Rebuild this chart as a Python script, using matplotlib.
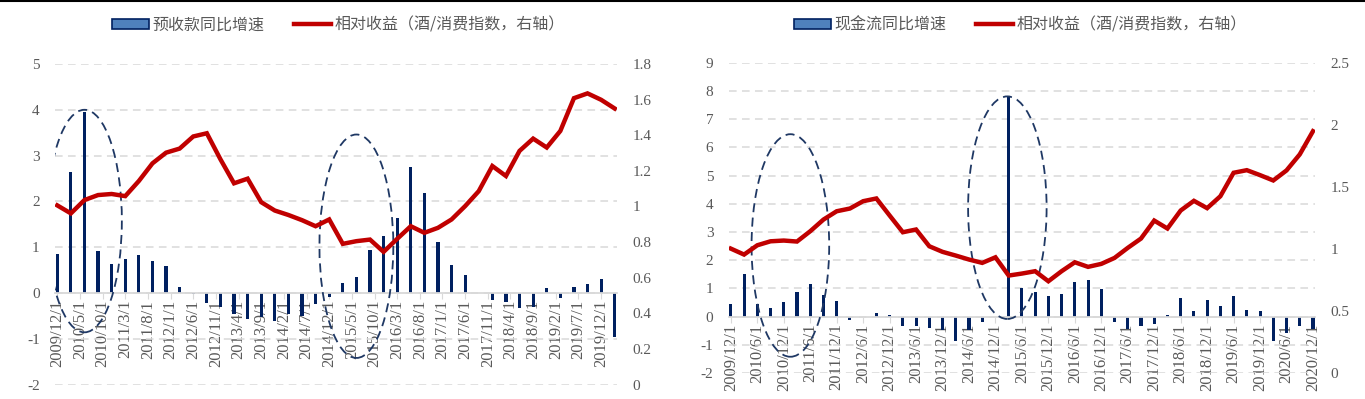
import numpy as np
import matplotlib
matplotlib.use("Agg")
import matplotlib.pyplot as plt
from matplotlib.patches import Ellipse, Patch
from matplotlib.lines import Line2D
from matplotlib.font_manager import FontProperties

plt.rcParams['font.family'] = ['Liberation Serif', 'Noto Sans CJK SC']
plt.rcParams['axes.unicode_minus'] = False

# ---- data: quarterly values, left chart from 2009/12 to 2020/3 ----
left_bars = [0.84, 2.65, 3.95, 0.91, 0.64, 0.75, 0.82, 0.69, 0.59, 0.12,
             -0.02, -0.22, -0.31, -0.47, -0.58, -0.52, -0.62, -0.46, -0.50, -0.24,
             -0.09, 0.22, 0.35, 0.93, 1.25, 1.63, 2.74, 2.18, 1.12, 0.61,
             0.39, -0.01, -0.15, -0.20, -0.33, -0.31, 0.10, -0.10, 0.14, 0.20,
             0.31, -0.96]
left_line = [1.006, 0.961, 1.036, 1.064, 1.070, 1.058, 1.143, 1.242, 1.302, 1.325,
             1.393, 1.411, 1.265, 1.130, 1.156, 1.024, 0.977, 0.952, 0.923, 0.889,
             0.927, 0.790, 0.805, 0.814, 0.745, 0.818, 0.889, 0.852, 0.880, 0.927,
             1.002, 1.086, 1.227, 1.171, 1.312, 1.381, 1.331, 1.424, 1.608, 1.635,
             1.599, 1.550]
left_labels = ['2009/12/1', '2010/5/1', '2010/10/1', '2011/3/1', '2011/8/1', '2012/1/1',
               '2012/6/1', '2012/11/1', '2013/4/1', '2013/9/1', '2014/2/1', '2014/7/1',
               '2014/12/1', '2015/5/1', '2015/10/1', '2016/3/1', '2016/8/1', '2017/1/1',
               '2017/6/1', '2017/11/1', '2018/4/1', '2018/9/1', '2019/2/1', '2019/7/1',
               '2019/12/1']

# ---- right chart from 2009/12 to 2020/12 ----
right_bars = [0.45, 1.51, 0.45, 0.30, 0.53, 0.87, 1.16, 0.77, 0.56, -0.13,
              -0.03, 0.12, 0.06, -0.35, -0.35, -0.41, -0.47, -0.85, -0.47, -0.19,
              -0.02, 7.80, 1.00, 0.86, 0.74, 0.80, 1.22, 1.28, 0.97, -0.18,
              -0.45, -0.32, -0.27, 0.05, 0.65, 0.18, 0.58, 0.37, 0.74, 0.24,
              0.21, -0.85, -0.59, -0.35, -0.44]
right_line = [1.002, 0.954, 1.029, 1.061, 1.067, 1.059, 1.142, 1.236, 1.303, 1.325,
              1.384, 1.406, 1.269, 1.134, 1.156, 1.021, 0.976, 0.946, 0.914, 0.887,
              0.932, 0.785, 0.801, 0.820, 0.739, 0.820, 0.892, 0.855, 0.879, 0.927,
              1.008, 1.083, 1.228, 1.164, 1.309, 1.387, 1.328, 1.424, 1.613, 1.634,
              1.594, 1.551, 1.632, 1.761, 1.948]
right_labels = ['2009/12/1', '2010/6/1', '2010/12/1', '2011/6/1', '2011/12/1', '2012/6/1',
                '2012/12/1', '2013/6/1', '2013/12/1', '2014/6/1', '2014/12/1', '2015/6/1',
                '2015/12/1', '2016/6/1', '2016/12/1', '2017/6/1', '2017/12/1', '2018/6/1',
                '2018/12/1', '2019/6/1', '2019/12/1', '2020/6/1', '2020/12/1']

legend_left = ['预收款同比增速', '相对收益（酒/消费指数，右轴）']
legend_right = ['现金流同比增速', '相对收益（酒/消费指数，右轴）']

NAVY = '#002060'
RED = '#C00000'
GRID = '#D9D9D9'
TXT = '#595959'

fig = plt.figure(figsize=(13.65, 3.99), dpi=100)


def draw(rect, bars, line, labels, step, ylim, yticks, y2lim, y2ticks, y2labels,
         ellipses, leg_labels, leg_anchor):
    ax = fig.add_axes(rect)
    xb = np.arange(len(bars)) * 3 + 0.5
    ax.bar(xb, bars, width=0.7, color=NAVY, zorder=2)
    ax.set_xlim(0, xb[-1] + 0.5)
    ax.set_ylim(*ylim)
    ax.set_yticks(yticks)
    ax.yaxis.grid(True, linestyle=(0, (5, 3.5)), color=GRID, lw=1.1)
    ax.set_axisbelow(True)
    for s in ['top', 'left', 'right']:
        ax.spines[s].set_visible(False)
    ax.spines['bottom'].set_position(('data', 0))
    ax.spines['bottom'].set_color(GRID)
    ax.spines['bottom'].set_linewidth(1.3)
    ax.set_xticks(np.arange(len(labels)) * step + 0.5)
    ax.set_xticklabels(labels, rotation=90)
    ax.tick_params(axis='x', length=4, color=GRID, labelsize=12, labelcolor=TXT, pad=1)
    ax.tick_params(axis='y', length=0, labelsize=11, labelcolor=TXT, pad=11)

    for cx, cy, w, h in ellipses:
        ax.add_patch(Ellipse((cx, cy), w, h, fill=False, ec='#1F3864', lw=1.3,
                             ls=(0, (5, 3)), zorder=3))

    ax2 = ax.twinx()
    ax2.plot(xb, line, color=RED, lw=3.2, solid_joinstyle='miter', zorder=4)
    ax2.set_ylim(*y2lim)
    ax2.set_yticks(y2ticks)
    ax2.set_yticklabels(y2labels)
    for s in ax2.spines.values():
        s.set_visible(False)
    ax2.tick_params(axis='y', length=0, labelsize=11, labelcolor=TXT, pad=11)

    handles = [Patch(facecolor='#4F81BD', edgecolor=NAVY, lw=1.2),
               Line2D([], [], color=RED, lw=3.2)]
    ax2.legend(handles, leg_labels, loc='center', bbox_to_anchor=leg_anchor, ncol=2,
               frameon=False, prop=FontProperties(family='Noto Sans CJK SC', size=11.5),
               labelcolor=TXT, handlelength=2.3, handleheight=0.6, handletextpad=0.2,
               columnspacing=1.9)


draw([0.0403, 0.0363, 0.4117, 0.8033], left_bars, left_line, left_labels, 5,
     (-2, 5), range(-2, 6), (0, 1.8), np.arange(0, 1.81, 0.2),
     ['0', '0.2', '0.4', '0.6', '0.8', '1', '1.2', '1.4', '1.6', '1.8'],
     [(6.5, 1.57, 16.5, 4.86), (66.5, 1.02, 16.3, 4.88)],
     legend_left, (0.504, 1.122))

draw([0.5338, 0.0652, 0.4297, 0.7777], right_bars, right_line, right_labels, 6,
     (-2, 9), range(-2, 10), (0, 2.5), np.arange(0, 2.51, 0.5),
     ['0', '0.5', '1', '1.5', '2', '2.5'],
     [(14.0, 2.52, 17.6, 7.89), (63.2, 3.86, 17.8, 7.89)],
     legend_right, (0.497, 1.121))

fig.add_artist(Line2D([0, 1], [0.997, 0.997], color='black', lw=1.5,
                      transform=fig.transFigure))

fig.savefig('out.png', dpi=100)
